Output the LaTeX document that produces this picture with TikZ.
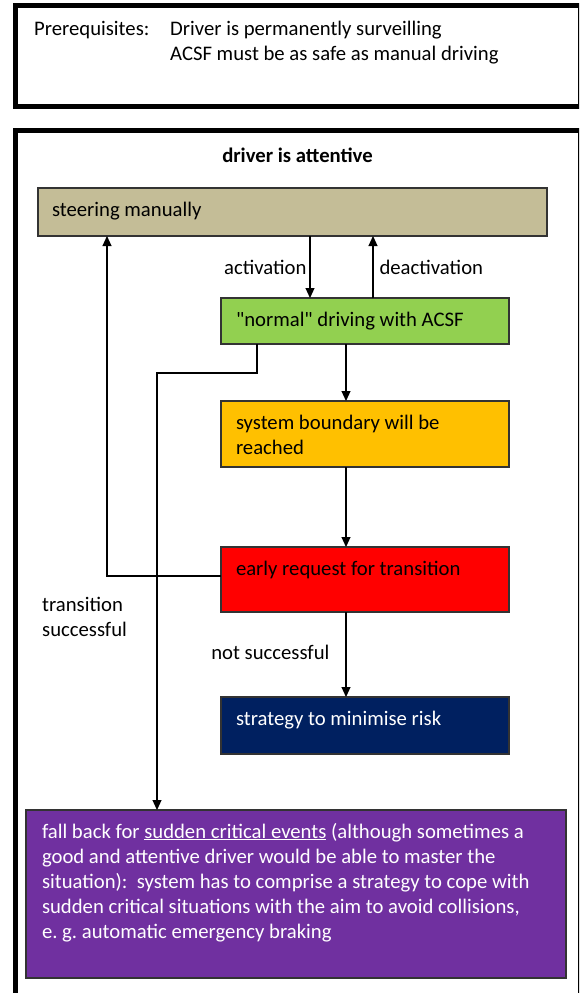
\documentclass[tikz,border=0pt]{standalone}
\usepackage{fontspec}
\setmainfont{Carlito}
\usepackage{xcolor}
\usetikzlibrary{positioning, arrows.meta, calc}

\definecolor{manualcol}{HTML}{C4BD97}
\definecolor{acsfcol}{HTML}{92D050}
\definecolor{boundcol}{HTML}{FFC000}
\definecolor{navycol}{HTML}{002060}
\definecolor{purplecol}{HTML}{7030A0}

% text at the top of a box of fixed size
\newcommand{\boxtext}[3]{\parbox[c][#2][t]{#1}{\vspace*{10.5pt}\raggedright\strut #3}}

\begin{document}
\frenchspacing
\begin{tikzpicture}[x=1pt, y=-1pt,
  font=\fontsize{20.7pt}{25pt}\selectfont,
  phase/.style={draw=black!80, line width=1.2pt, anchor=north west,
    inner xsep=15pt, inner ysep=0pt, outer sep=0pt},
  frame/.style={draw=black, line width=4.5pt},
  flow/.style={-{Triangle[length=10pt,width=9pt]}, line width=1.1pt},
  lbl/.style={inner sep=3pt}]
  \useasboundingbox (0,0) rectangle (579,993);
  \clip (0,0) rectangle (579,993);

  % outer frames
  \draw[frame] (15.5,5.5) rectangle (580.5,106.5);
  \draw[frame] (15.5,130.5) rectangle (580.5,1010);

  \node[anchor=north west, inner sep=0pt] (prereq) at (34,17.5)
    {\begin{tabular}{@{}p{136pt}@{}l@{}}
      Prerequisites: & Driver is permanently surveilling\\
                     & ACSF must be as safe as manual driving
     \end{tabular}};
  \node (title) at (297.5,155) {\textbf{driver is attentive}};

  % states
  \node[phase, fill=manualcol, inner xsep=14pt] (steer) at (38,188)
    {\boxtext{481pt}{48pt}{steering manually}};
  \node[phase, fill=acsfcol] (normal) at (221,298)
    {\boxtext{258pt}{46pt}{\textquotedbl normal\textquotedbl{} driving with ACSF}};
  \node[phase, fill=boundcol, below=57pt of normal] (boundary)
    {\boxtext{258pt}{66pt}{system boundary will be\\reached}};
  \node[phase, fill=red, below=80pt of boundary] (request)
    {\boxtext{258pt}{65pt}{early request for transition}};
  \node[phase, fill=navycol, text=white, below=85pt of request] (strategy)
    {\boxtext{258pt}{57pt}{strategy to minimise risk}};
  \node[phase, fill=purplecol, text=white, inner xsep=16pt] (fallback) at (26,810)
    {\boxtext{508pt}{168pt}{fall back for \underline{sudden critical events} (although sometimes a\\
      good and attentive driver would be able to master the\\
      situation):~ system has to comprise a strategy to cope with\\
      sudden critical situations with the aim to avoid collisions,\\
      e. g. automatic emergency braking}};

  % transitions
  \draw[flow] ([xshift=-55pt]normal.north |- steer.south)
    -- node[lbl, left] {activation} ([xshift=-55pt]normal.north);
  \draw[flow] ([xshift=8pt]normal.north)
    -- node[lbl, right, xshift=3pt] {deactivation} ([xshift=8pt]normal.north |- steer.south);
  \draw[flow] ([xshift=-19pt]normal.south) -- ([xshift=-19pt]boundary.north);
  \draw[flow] ([xshift=-19pt]boundary.south) -- ([xshift=-19pt]request.north);
  \draw[flow] ([xshift=-19pt]request.south)
    -- node[lbl, left, xshift=-13pt, yshift=2pt] {not successful} ([xshift=-19pt]strategy.north);
  \draw[flow] ([xshift=-108pt]normal.south) -- ++(0,29) -| ([xshift=131pt]fallback.north west);
  \draw[flow] ([yshift=-29pt]request.north west) -| ([xshift=69pt]steer.south west);

  \node[lbl, align=left, anchor=north west] (success) at (39,594) {transition\\successful};
\end{tikzpicture}
\end{document}
